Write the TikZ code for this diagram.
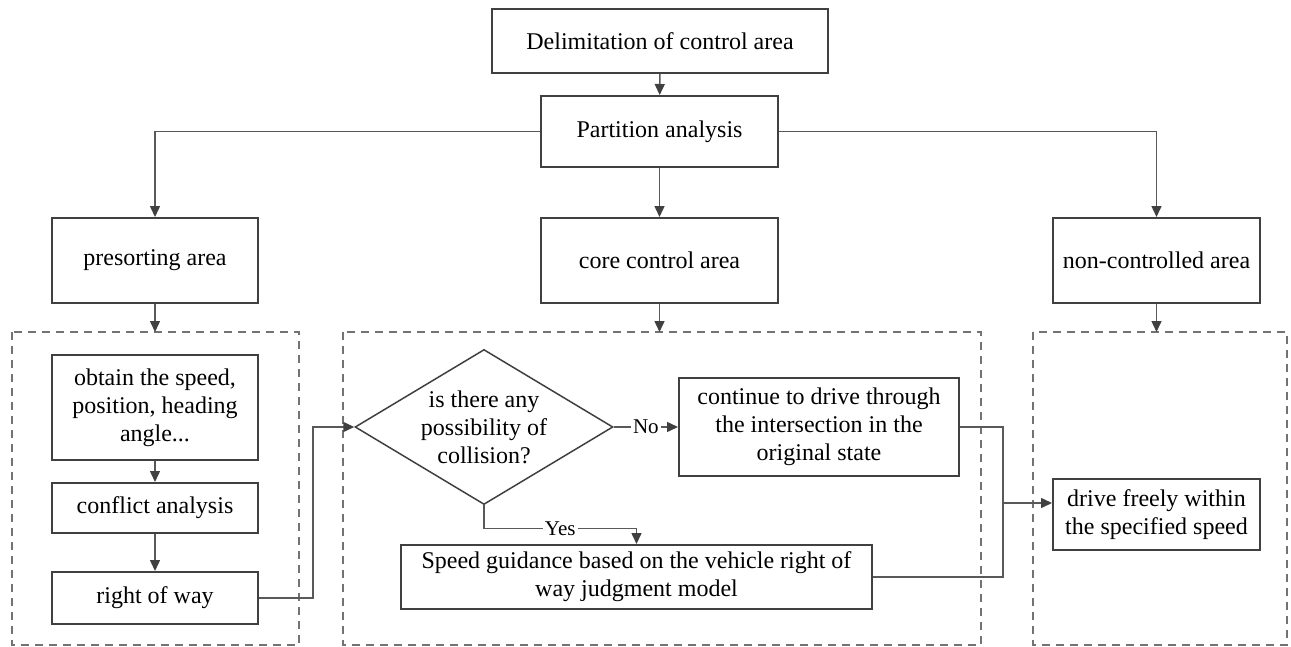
\documentclass[tikz,border=0pt]{standalone}
\usepackage{fontspec}
\setmainfont{Liberation Serif}
\usetikzlibrary{arrows.meta,shapes.geometric}

\begin{document}
\begin{tikzpicture}[x=0.5pt,y=-0.5pt,font=\fontsize{12pt}{14pt}\selectfont,
  box/.style={draw=black!75, line width=1pt, align=center, inner sep=0pt},
  choice/.style={diamond, aspect=1.66, draw=black!75, line width=0.75pt, align=center,
                 inner sep=0pt, minimum width=129pt, minimum height=77.5pt},
  arr/.style={draw=black!65, line width=0.75pt,
              -{Triangle[length=5.5pt,width=5pt,color=black!75]}},
  link/.style={draw=black!65, line width=0.75pt},
  zone/.style={draw=black!55, line width=0.75pt, dash pattern=on 4pt off 3pt},
  tag/.style={fill=white, inner sep=1pt, font=\fontsize{10.5pt}{12pt}\selectfont}]%{{{
\useasboundingbox (0,0) rectangle (1291,647);
%
% Partition
\node[box, minimum width=168pt,   minimum height=32pt]   (delim)   at (660,41)     {Delimitation of control area};
\node[box, minimum width=118.5pt, minimum height=35.5pt] (part)    at (659.5,131.5) {Partition analysis};
\node[box, minimum width=103pt,   minimum height=42.5pt] (presort) at (155,260.5)  {presorting area};
\node[box, minimum width=118.5pt, minimum height=42.5pt] (core)    at (659.5,260.5) {core control area};
\node[box, minimum width=103.5pt, minimum height=42.5pt] (noncon)  at (1156.5,260.5) {non-controlled area};
%
% Zones
\coordinate (top) at (0,332);
\foreach \a/\b in {12/299,343/981,1033/1287} \draw[zone] (\a,332) rectangle (\b,645);
%
% Presorting area
\node[box, minimum width=103pt, minimum height=52.5pt] (obtain) at (155,407.5)
     {obtain the speed,\\position, heading\\angle...};
\node[box, minimum width=103pt, minimum height=25pt]   (confl)  at (155,508) {conflict analysis};
\node[box, minimum width=103pt, minimum height=26pt]   (row)    at (155,598) {right of way};
%
% Core control area
\node[choice] (coll) at (484,427) {is there any\\possibility of\\collision?};
\node[box, minimum width=140pt,   minimum height=49pt] (cont)  at (819,427)
     {continue to drive through\\the intersection in the\\original state};
\node[box, minimum width=235.5pt, minimum height=32pt] (guide) at (636.5,577)
     {Speed guidance based on the vehicle right of\\way judgment model};
%
% Non-controlled area
\node[box, minimum width=103.5pt, minimum height=35.5pt] (free) at (1156.5,514.5)
     {drive freely within\\the specified speed};
\coordinate (join) at (1003,503);
%
% Arrows
\draw[arr] (delim) -- (part);
\draw[arr] (part.west) -| (presort.north);
\draw[arr] (part.east) -| (noncon.north);
\draw[arr] (part) -- (core);
\foreach \n in {presort,core,noncon} \draw[arr] (\n.south) -- (\n.south |- top);
\draw[arr] (obtain) -- (confl);
\draw[arr] (confl) -- (row);
\draw[arr] (row.east) -- ++(54,0) |- (coll.west);
\draw[arr] (coll.east) -- node[tag] {No} (cont.west);
\draw[arr] (coll.south) -- ++(0,23) -| node[tag, pos=0.25] {Yes} (guide.north);
\draw[link] (cont.east) -| (join);
\draw[link] (guide.east) -| (join);
\draw[arr] (join) -- (join -| free.west);
%
\end{tikzpicture}
\end{document}
